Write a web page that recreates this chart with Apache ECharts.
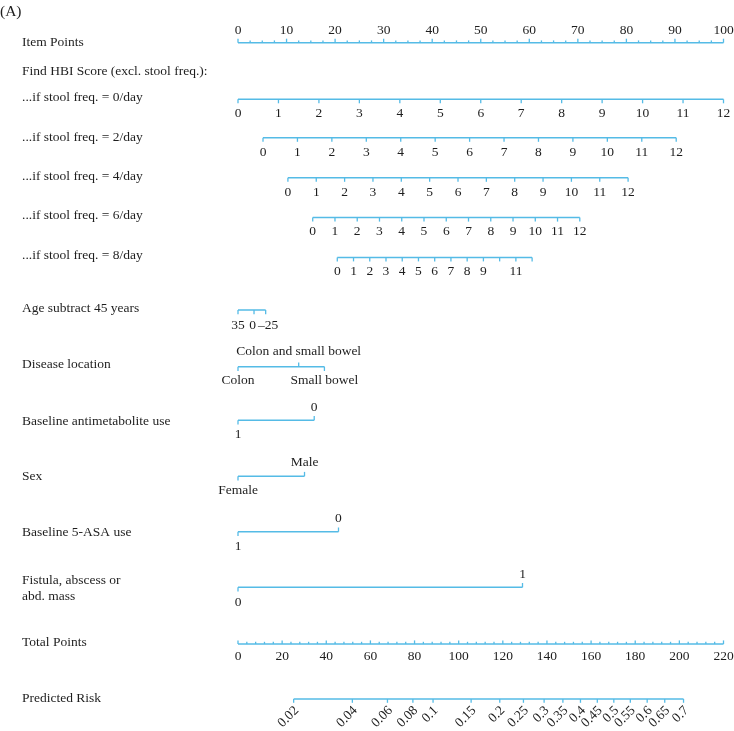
<!DOCTYPE html>
<html><head><meta charset="utf-8">
<script src="https://cdn.jsdelivr.net/npm/echarts@6/dist/echarts.min.js"></script>
<style>html,body{margin:0;padding:0;background:#fff}#c{width:734px;height:731px}</style>
</head><body><div id="c"></div>
<script>
// ================= DATA =================
const panelLabel = '(A)';
const itemPointLabels = [0, 10, 20, 30, 40, 50, 60, 70, 80, 90, 100];
const itemPointMinorStep = 2.5;

const hbiTitle = 'Find HBI Score (excl. stool freq.):';
const hbiScores = [0, 1, 2, 3, 4, 5, 6, 7, 8, 9, 10, 11, 12];
const stoolFreqRows = ['...if stool freq. = 0/day', '...if stool freq. = 2/day', '...if stool freq. = 4/day', '...if stool freq. = 6/day', '...if stool freq. = 8/day'];
const hbiStartPoints = [0, 5.15, 10.28, 15.39, 20.45];   // points at HBI = 0
const hbiEndPoints = [100, 90.26, 80.35, 70.40, 60.58];  // points at HBI = 12
const hbiHiddenLabels = [[], [], [], [], [10, 12]];

const ageTitle = 'Age subtract 45 years';
const ageLabels = ['35', '0', '\u201325'];
const agePoints = [0, 3.3, 5.7];

const locationTitle = 'Disease location';
const locationLabels = ['Colon', 'Colon and small bowel', 'Small bowel'];
const locationPoints = [0, 12.5, 17.8];

const antimetTitle = 'Baseline antimetabolite use';
const antimetLabels = ['1', '0'];
const antimetPoints = [0, 15.7];

const sexTitle = 'Sex';
const sexLabels = ['Female', 'Male'];
const sexPoints = [0, 13.7];

const asaTitle = 'Baseline 5-ASA use';
const asaLabels = ['1', '0'];
const asaPoints = [0, 20.7];

const fistulaTitle = 'Fistula, abscess or\nabd. mass';
const fistulaLabels = ['0', '1'];
const fistulaPoints = [0, 58.6];

const totalTitle = 'Total Points';
const totalPointLabels = [0, 20, 40, 60, 80, 100, 120, 140, 160, 180, 200, 220];
const totalPointsMax = 220;
const totalPointMinorStep = 4;

const riskTitle = 'Predicted Risk';
const riskLabels = [0.02, 0.04, 0.06, 0.08, 0.1, 0.15, 0.2, 0.25, 0.3, 0.35, 0.4, 0.45, 0.5, 0.55, 0.6, 0.65, 0.7];
const riskTotalAtLogitZero = 170.3;   // total points where risk = 0.5
const riskTotalPerLogit = 37.28;      // total points per logit unit

// ================= LAYOUT / STYLE =================
const BLUE = '#55bbe6';
const TXT = '#1e1e1e';
const FONT = '"Liberation Serif", "DejaVu Serif", serif';
const FS = 13.5;
const TITLE_X = 22;

const hbiLineY = [99.3, 137.8, 177.8, 217.6, 257.4];
const hbiTitleY = [97.5, 137, 176, 215.5, 255];

// ================= build rows =================
const rows = [];
// item points
(function () {
  const ticks = [];
  for (let v = 0; v <= 100 + 1e-9; v += itemPointMinorStep) {
    const major = itemPointLabels.indexOf(v) >= 0;
    ticks.push({ pt: v, dir: -1, len: major ? 4 : 2.3 });
  }
  const labels = itemPointLabels.map(v => ({ pt: v, text: String(v), dy: -12.7 }));
  rows.push({ y: 42.7, from: 0, to: 100, ticks, labels });
})();
// HBI rows
stoolFreqRows.forEach((name, i) => {
  const a = hbiStartPoints[i], b = hbiEndPoints[i];
  const n = hbiScores[hbiScores.length - 1] - hbiScores[0];
  const ticks = [], labels = [];
  hbiScores.forEach(s => {
    const pt = a + (s - hbiScores[0]) / n * (b - a);
    ticks.push({ pt, dir: 1, len: 4 });
    if (hbiHiddenLabels[i].indexOf(s) < 0) labels.push({ pt, text: String(s), dy: 14.3 });
  });
  rows.push({ y: hbiLineY[i], from: a, to: b, ticks, labels });
});
function catRow(y, labels, points, sides, dyUp, dyDown, dxs) {
  const ticks = [], labs = [];
  labels.forEach((t, i) => {
    const dir = sides[i] === 'up' ? -1 : 1;
    ticks.push({ pt: points[i], dir, len: 4.3 });
    labs.push({ pt: points[i], text: t, dy: dir < 0 ? dyUp : dyDown, dx: dxs ? dxs[i] : 0 });
  });
  rows.push({ y, from: Math.min.apply(null, points), to: Math.max.apply(null, points), ticks, labels: labs });
}
catRow(310, ageLabels, agePoints, ['down', 'down', 'down'], -13, 15, [0, -1.5, 2.5]);
catRow(366.7, locationLabels, locationPoints, ['down', 'up', 'down'], -15.5, 13.5);
catRow(420.3, antimetLabels, antimetPoints, ['down', 'up'], -13.3, 14);
catRow(476.2, sexLabels, sexPoints, ['down', 'up'], -13.3, 14.5);
catRow(531.8, asaLabels, asaPoints, ['down', 'up'], -13.5, 15);
catRow(587.3, fistulaLabels, fistulaPoints, ['down', 'up'], -12.5, 15.3);
// total points
(function () {
  const ticks = [];
  const toPt = v => v / totalPointsMax * 100;
  for (let v = 0; v <= totalPointsMax + 1e-9; v += totalPointMinorStep) {
    const major = totalPointLabels.indexOf(v) >= 0;
    ticks.push({ pt: toPt(v), dir: -1, len: major ? 3.6 : 2.2 });
  }
  const labels = totalPointLabels.map(v => ({ pt: toPt(v), text: String(v), dy: 12.3 }));
  rows.push({ y: 644, from: 0, to: 100, ticks, labels });
})();
// predicted risk
(function () {
  const toPt = p => (riskTotalAtLogitZero + Math.log(p / (1 - p)) * riskTotalPerLogit) / totalPointsMax * 100;
  const ticks = [], labels = [];
  riskLabels.forEach(p => {
    ticks.push({ pt: toPt(p), dir: 1, len: 3.8 });
    labels.push({ pt: toPt(p), text: String(p), dy: 9.5, dx: 3, rot: true });
  });
  rows.push({ y: 699, from: toPt(riskLabels[0]), to: toPt(riskLabels[riskLabels.length - 1]), ticks, labels });
})();

// ================= titles (graphic) =================
const titles = [
  { text: panelLabel, x: 0, y: 11.5, fs: 15.5 },
  { text: 'Item Points', x: TITLE_X, y: 42.5 },
  { text: hbiTitle, x: TITLE_X, y: 71.5 }
];
stoolFreqRows.forEach((t, i) => titles.push({ text: t, x: TITLE_X, y: hbiTitleY[i] }));
titles.push({ text: ageTitle, x: TITLE_X, y: 308 });
titles.push({ text: locationTitle, x: TITLE_X, y: 364.5 });
titles.push({ text: antimetTitle, x: TITLE_X, y: 421 });
titles.push({ text: sexTitle, x: TITLE_X, y: 476.8 });
titles.push({ text: asaTitle, x: TITLE_X, y: 532.5 });
titles.push({ text: fistulaTitle, x: TITLE_X, y: 588, lh: 16 });
titles.push({ text: totalTitle, x: TITLE_X, y: 642.5 });
titles.push({ text: riskTitle, x: TITLE_X, y: 698 });

const chart = echarts.init(document.getElementById('c'), null, { renderer: 'canvas' });
chart.setOption({
  animation: false,
  backgroundColor: '#fff',
  grid: { left: 238, right: 10.5, top: 0, bottom: 0 },
  xAxis: { type: 'value', min: 0, max: 100, show: false },
  yAxis: { type: 'value', min: 0, max: 731, inverse: true, show: false },
  graphic: titles.map(t => ({
    type: 'text', x: t.x, y: t.y, silent: true,
    style: {
      text: t.text, fill: TXT, fontFamily: FONT, fontSize: t.fs || FS,
      verticalAlign: 'middle', align: 'left', lineHeight: t.lh || undefined
    }
  })),
  series: [{
    type: 'custom',
    clip: false,
    silent: true,
    data: rows.map((r, i) => [i]),
    encode: { x: -1, y: -1 },
    renderItem: function (params, api) {
      const r = rows[api.value(0)];
      const children = [];
      const p0 = api.coord([r.from, r.y]);
      const p1 = api.coord([r.to, r.y]);
      children.push({
        type: 'line', shape: { x1: p0[0], y1: p0[1], x2: p1[0], y2: p1[1] },
        style: { stroke: BLUE, lineWidth: 1.5 }
      });
      r.ticks.forEach(t => {
        const p = api.coord([t.pt, r.y]);
        children.push({
          type: 'line', shape: { x1: p[0], y1: p[1], x2: p[0], y2: p[1] + t.dir * t.len },
          style: { stroke: BLUE, lineWidth: 1.3 }
        });
      });
      r.labels.forEach(l => {
        const p = api.coord([l.pt, r.y]);
        if (l.rot) {
          children.push({
            type: 'text', x: p[0] + l.dx, y: p[1] + l.dy, rotation: Math.PI / 4,
            style: { text: l.text, fill: TXT, fontFamily: FONT, fontSize: FS, align: 'right', verticalAlign: 'middle' }
          });
        } else {
          children.push({
            type: 'text', x: p[0] + (l.dx || 0), y: p[1] + l.dy,
            style: { text: l.text, fill: TXT, fontFamily: FONT, fontSize: FS, align: 'center', verticalAlign: 'middle' }
          });
        }
      });
      return { type: 'group', children };
    }
  }]
});
</script></body></html>
